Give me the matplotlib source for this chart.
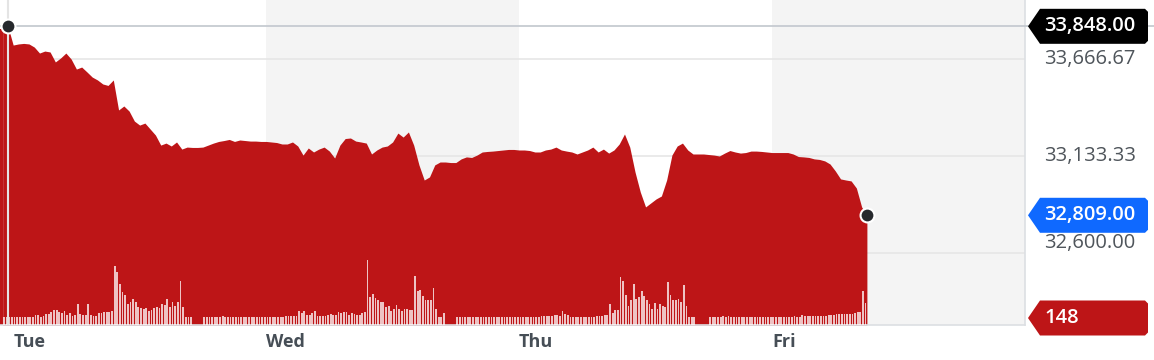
import numpy as np
import matplotlib.pyplot as plt
from matplotlib.patches import Polygon

plt.rcParams['font.family'] = ['Open Sans', 'DejaVu Sans']

# 30-min closes, hours counted from Tue 00:00 (first sample Mon 23:00)
price_mon_eve = [33833, 33848]
price_tue = [33745, 33751, 33754, 33751, 33734, 33701, 33712, 33707, 33652, 33674,
             33701, 33668, 33613, 33624, 33597, 33569, 33553, 33531, 33523, 33553,
             33388, 33410, 33382, 33327, 33305, 33316, 33283, 33250, 33195, 33206,
             33190, 33212, 33173, 33184, 33182, 33182, 33184, 33195, 33206, 33215,
             33220, 33226, 33215, 33223, 33220, 33217, 33217, 33215]
price_wed = [33215, 33212, 33209, 33201, 33201, 33212, 33190, 33140, 33179, 33157,
             33173, 33184, 33162, 33124, 33195, 33231, 33234, 33217, 33212, 33206,
             33146, 33168, 33184, 33190, 33212, 33261, 33239, 33267, 33195, 33086,
             33003, 33020, 33086, 33102, 33102, 33099, 33099, 33119, 33130, 33127,
             33140, 33157, 33160, 33162, 33165, 33168, 33171, 33171]
price_thu = [33168, 33168, 33165, 33157, 33157, 33168, 33173, 33184, 33168, 33162,
             33157, 33146, 33157, 33168, 33184, 33157, 33173, 33151, 33168, 33201,
             33256, 33184, 33047, 32937, 32855, 32877, 32899, 32915, 33003, 33140,
             33190, 33206, 33168, 33146, 33146, 33146, 33143, 33140, 33135, 33151,
             33165, 33157, 33151, 33154, 33162, 33162, 33160, 33157]
price_fri = [33154, 33154, 33154, 33154, 33146, 33132, 33130, 33127, 33119, 33116,
             33108, 33091, 33053, 33009, 33003, 32998, 32959, 32855, 32809]

# 15-min volume bars, first bar Mon 23:00 (0 = trading break)
vol_mon_eve = [52, 54, 53, 52]
vol_tue = [52, 51, 53, 52, 52, 51, 52, 53,
           67, 67, 54, 61, 74, 74, 87, 101, 101, 87,
           81, 94, 67, 81, 61, 67, 141, 74, 67, 67,
           141, 67, 61, 61, 81, 81, 87, 87, 87, 94,
           397, 357, 276, 222, 202, 141, 155, 175, 155, 121,
           114, 108, 114, 94, 101, 114, 121, 114, 141, 135,
           175, 121, 155, 128, 155, 296, 121, 52, 52, 52,
           0, 0, 0, 0,
           54, 54, 55, 54, 54, 54, 56, 61, 55, 54, 54, 54,
           55, 54, 54, 53, 54, 54, 55, 54, 54, 54, 55, 54]
vol_wed = [54, 54, 53, 54, 54, 54, 55,
           61, 61, 61, 61, 61,
           94, 81, 94, 67, 67, 81, 94, 61, 61, 61,
           61, 67, 74, 67, 67, 87, 81, 87, 87, 67,
           81, 74, 67, 67, 81, 87, 437, 188, 209, 182,
           168, 155, 155, 121, 128, 94, 108, 135, 108, 94,
           108, 108, 101, 101, 330, 229, 236, 195, 168, 168,
           168, 249, 108, 54, 54, 81,
           0, 0, 0, 0,
           54, 54, 54, 55, 54, 54, 54, 54, 54, 55, 54, 54,
           54, 54, 54, 54, 55, 54, 54, 54, 54, 54, 55, 54]
vol_thu = [54, 54, 55, 54, 54, 54, 55, 54,
           61, 61, 61, 61, 61, 67, 67, 61, 94, 74,
           67, 54, 56, 55, 56, 57, 56, 55, 57, 56,
           57, 61, 61, 61, 67, 67, 141, 81, 101, 101,
           323, 296, 202, 128, 168, 276, 175, 188, 229, 195,
           168, 141, 108, 148, 108, 141, 128, 121, 289, 202,
           168, 168, 175, 155, 269, 128, 54, 54, 54, 0,
           0, 0, 0, 0,
           54, 54, 54, 55, 56, 60, 56, 60, 55, 56, 55, 54,
           54, 54, 54, 54, 54, 54, 54, 54, 55, 54, 54, 54]
vol_fri = [54, 54, 54, 54, 55, 54, 54, 54,
           61, 56, 56, 67, 58, 58, 60, 60, 60, 58,
           60, 60, 60, 67, 67, 67, 74, 72, 74, 72,
           74, 72, 74, 81, 87, 87, 229, 148]

days = ['Tue', 'Wed', 'Thu', 'Fri']
grid_levels = [33666.67, 33133.33, 32600.00]
prev_close = 33848.00

price = np.array(price_mon_eve + price_tue + price_wed + price_thu + price_fri, dtype=float)
t_price = -1.0 + 0.5 * np.arange(len(price))
vol = np.array(vol_mon_eve + vol_tue + vol_wed + vol_thu + vol_fri, dtype=float)
t_vol = -1.0 + 0.25 * np.arange(len(vol)) + 0.125

RED = '#bd1517'
BLUE = '#0f69ff'
W, H = 1154, 360
fig = plt.figure(figsize=(W / 100, H / 100), dpi=100)
rect = [0, 35 / H, 1025 / W, 325 / H]

ax = fig.add_axes(rect)
ax.set_xlim(-1.25, 96.0)
ax.set_ylim(32205.8, 33992.7)
for i in (1, 3):
    ax.axvspan(24 * i, 24 * (i + 1), color='#f4f4f4', lw=0, zorder=0)
for g in grid_levels:
    ax.axhline(g, color='#e6e6e6', lw=1.2, zorder=1)
ax.fill_between(t_price, price, 32205.8, color=RED, lw=0, zorder=2)
ax.axvspan(-1.25, t_price[0], ymax=(price[0] - 32205.8) / (33992.7 - 32205.8),
           color=RED, lw=0, zorder=2)
ax.axhline(prev_close, color='#c6cbd1', lw=1.3, zorder=3)

ax.set_xticks([0, 24, 48, 72])
ax.set_xticklabels(days, ha='left', fontsize=13, fontweight='bold', color='#464e56')
ax.tick_params(axis='x', length=0, pad=6)
ax.set_yticks([])
for s in ('left', 'top'):
    ax.spines[s].set_visible(False)
for s in ('right', 'bottom'):
    ax.spines[s].set_color('#dcdfe3')
    ax.spines[s].set_linewidth(1.2)

# volume bars
axv = fig.add_axes(rect, sharex=ax)
axv.axis('off')
axv.set_ylim(0, 148 * 325 / 22)
axv.bar(t_vol, vol, width=0.17, color='white', alpha=0.75, lw=0)

# markers / crosshair
axt = fig.add_axes(rect, sharex=ax, sharey=ax)
axt.axis('off')
axt.axvline(t_price[1], color='#e4e4e4', lw=1.5)
axt.plot([t_price[1], t_price[-1]], [price[1], price[-1]], 'o', color='#26292d',
         ms=10, mec='white', mew=1.5, clip_on=False)

# right-hand labels and tags
ov = fig.add_axes([0, 0, 1, 1])
ov.axis('off')
ov.set_xlim(0, W)
ov.set_ylim(0, H)


def ypix(p):
    return ax.transData.transform((0, p))[1]


def tag(yc, text, color):
    h = 35
    pts = [(1028, yc), (1040, yc + h / 2), (1145, yc + h / 2), (1148, yc + h / 2 - 3),
           (1148, yc - h / 2 + 3), (1145, yc - h / 2), (1040, yc - h / 2)]
    ov.add_patch(Polygon(pts, closed=True, fc=color, ec='none', zorder=5))
    ov.text(1044, yc, text, color='white', fontsize=14.5, fontweight='semibold',
            va='center', ha='left', zorder=6)


y_prev = ypix(prev_close)
ov.plot([1025, W], [y_prev, y_prev], color='#c6cbd1', lw=1.3, zorder=1)

offsets = [0, 0, 10]
for g, off in zip(grid_levels, offsets):
    ov.text(1044, ypix(g) + off, f'{g:,.2f}', color='#4f555b', fontsize=14.5,
            fontweight='medium', va='center', ha='left')

tag(y_prev, f'{prev_close:,.2f}', '#000000')
tag(ypix(price[-1]), f'{price[-1]:,.2f}', BLUE)
tag(35 + 7, f'{int(vol[-1])}', RED)

fig.savefig('out.png', dpi=100, facecolor='white')
